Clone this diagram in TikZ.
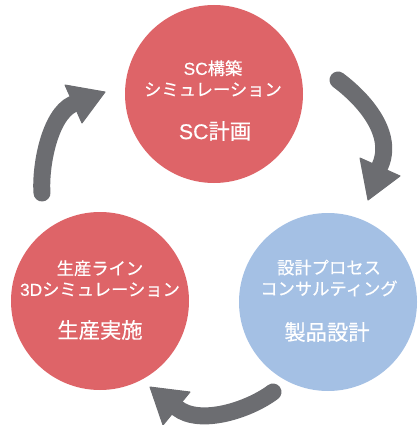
\documentclass[tikz,border=0pt]{standalone}
\usepackage{fontspec}
\newfontfamily\jp[FakeBold=0.4]{Noto Sans CJK JP}
\newfontfamily\lat[FakeBold=0.4]{Liberation Sans}
\definecolor{cred}{RGB}{222,100,104}
\definecolor{cblue}{RGB}{164,192,228}
\definecolor{cgray}{RGB}{108,109,113}
\begin{document}
\begin{tikzpicture}[x=1pt,y=-1pt,
  disc/.style={circle,minimum size=178pt,inner sep=0pt,draw=none},
  small/.style={text=white,align=center,inner sep=0pt,font=\jp\fontsize{17.3}{21}\selectfont},
  big/.style={text=white,align=center,inner sep=0pt,font=\jp\fontsize{21.3}{24}\selectfont},
  shaft/.style={draw=cgray,line width=17pt,line cap=round},
  head/.style={fill=cgray,draw=cgray,line width=1pt,line join=round}]
\useasboundingbox (0,0) rectangle (419,425);
\node[disc,fill=cred] (top) at (214,94) {};
\node[disc,fill=cred] (left) at (100,301) {};
\node[disc,fill=cblue] (right) at (328,302) {};
\node[small] (topa) at (213,78.5) {{\lat SC}構築\\シミュレーション};
\node[big] (topb) at (215,131) {{\lat SC}計画};
\node[small] (lefta) at (100,278.5) {生産ライン\\{\lat 3D}シミュレーション};
\node[big] (leftb) at (100,330) {生産実施};
\node[small] (righta) at (329,278) {設計プロセス\\コンサルティング};
\node[big] (rightb) at (327,332) {製品設計};
% arrow: left circle -> top circle
\coordinate (a1t) at (42,193);
\coordinate (a1b) at (73,104);
\draw[shaft] (a1t) .. controls (40,168) and (49,115) .. (a1b);
\fill[head] (65,85) -- (82,123) -- (105,92) -- cycle;
% arrow: top circle -> right circle
\coordinate (a2t) at (338,80);
\coordinate (a2b) at (380,166);
\draw[shaft] (a2t) .. controls (366,101) and (394,135) .. (a2b);
\fill[head] (360,158) -- (400,176) -- (368,200) -- cycle;
% arrow: right circle -> left circle
\coordinate (a3t) at (273,392);
\coordinate (a3b) at (177,408);
\draw[shaft] (a3t) .. controls (249,410) and (200,426) .. (a3b);
\fill[head] (190,392) -- (163,425) -- (150,387) -- cycle;
\end{tikzpicture}
\end{document}
